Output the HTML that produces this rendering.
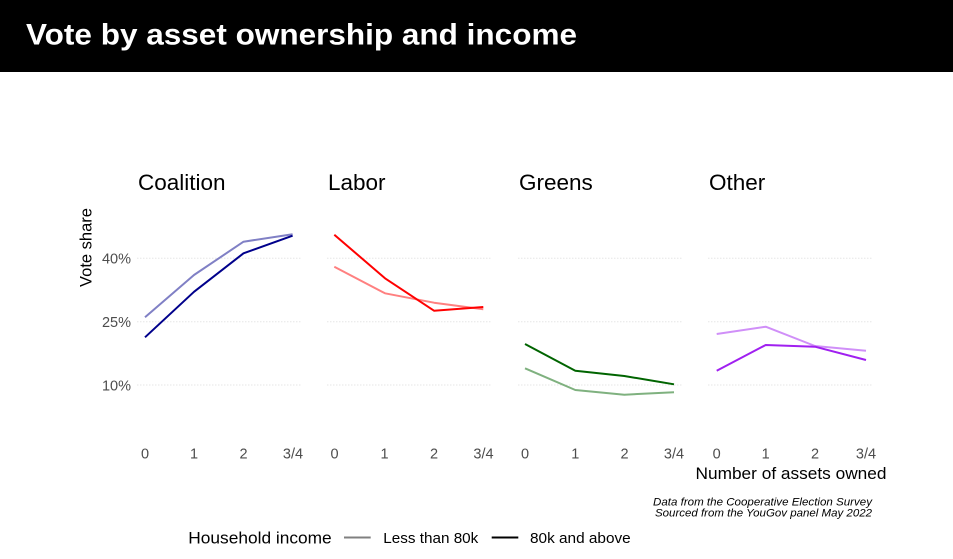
<!DOCTYPE html>
<html><head><meta charset="utf-8"><style>
html,body{margin:0;padding:0;background:#fff;}
svg{display:block;}
</style></head><body>
<svg width="953" height="559" viewBox="0 0 953 559" xmlns="http://www.w3.org/2000/svg" font-family="Liberation Sans, Arial, sans-serif">
<rect x="0" y="0" width="953" height="559" fill="#fff"/>
<rect x="0" y="0" width="953" height="72" fill="#000"/>
<text x="26" y="44.5" font-size="30" font-weight="bold" fill="#fff" textLength="551" lengthAdjust="spacingAndGlyphs">Vote by asset ownership and income</text>

<!-- gridlines -->
<g stroke="#e6e6e6" stroke-width="1" stroke-dasharray="1.5,1.5" fill="none">
<line x1="137" y1="258.3" x2="301" y2="258.3"/><line x1="137" y1="321.7" x2="301" y2="321.7"/><line x1="137" y1="385" x2="301" y2="385"/>
<line x1="327" y1="258.3" x2="491" y2="258.3"/><line x1="327" y1="321.7" x2="491" y2="321.7"/><line x1="327" y1="385" x2="491" y2="385"/>
<line x1="518" y1="258.3" x2="682" y2="258.3"/><line x1="518" y1="321.7" x2="682" y2="321.7"/><line x1="518" y1="385" x2="682" y2="385"/>
<line x1="708" y1="258.3" x2="873" y2="258.3"/><line x1="708" y1="321.7" x2="873" y2="321.7"/><line x1="708" y1="385" x2="873" y2="385"/>
</g>

<!-- facet titles -->
<g font-size="22.5" fill="#000">
<text x="138" y="190">Coalition</text>
<text x="328" y="190">Labor</text>
<text x="519" y="190">Greens</text>
<text x="709" y="190">Other</text>
</g>

<!-- y axis -->
<g font-size="14.5" fill="#4d4d4d" text-anchor="end">
<text x="131" y="263.5">40%</text>
<text x="131" y="327">25%</text>
<text x="131" y="390.3">10%</text>
</g>
<text transform="translate(91.5,247.5) rotate(-90)" font-size="16.5" fill="#000" text-anchor="middle">Vote share</text>

<!-- x ticks -->
<g font-size="14.5" fill="#4d4d4d" text-anchor="middle">
<text x="145" y="458.5">0</text><text x="194" y="458.5">1</text><text x="243.5" y="458.5">2</text><text x="293" y="458.5">3/4</text>
<text x="334.5" y="458.5">0</text><text x="384.5" y="458.5">1</text><text x="434" y="458.5">2</text><text x="483.5" y="458.5">3/4</text>
<text x="525" y="458.5">0</text><text x="575.3" y="458.5">1</text><text x="624.5" y="458.5">2</text><text x="674" y="458.5">3/4</text>
<text x="716.7" y="458.5">0</text><text x="765.7" y="458.5">1</text><text x="815" y="458.5">2</text><text x="866" y="458.5">3/4</text>
</g>
<text x="886.5" y="479" font-size="17" fill="#000" text-anchor="end" textLength="191" lengthAdjust="spacingAndGlyphs">Number of assets owned</text>

<!-- series -->
<g fill="none" stroke-width="2" stroke-linejoin="round">
<polyline stroke="#8080c5" points="145,317.3 194,275 243.5,241.7 292.6,234.2"/>
<polyline stroke="#00008b" points="145,337.3 194,291.8 243.5,253.3 292.6,235.7"/>
<polyline stroke="#ff8080" points="334.3,266.7 385,293.3 434,302.7 483.3,309.3"/>
<polyline stroke="#ff0000" points="334.3,234.7 385,278.3 434,310.7 483.3,307"/>
<polyline stroke="#7fb17f" points="525,368.3 575.3,390 624.3,394.7 674,392.3"/>
<polyline stroke="#006400" points="525,344 575.3,370.7 624.3,376 674,384.3"/>
<polyline stroke="#d08ff8" points="716.7,334 765.7,326.7 815,346 866,350.7"/>
<polyline stroke="#a020f0" points="716.7,370.7 765.7,345 815,346.7 866,360"/>
</g>

<!-- caption -->
<g font-size="11" font-style="italic" fill="#000" text-anchor="end">
<text x="872" y="505.5" textLength="219" lengthAdjust="spacingAndGlyphs">Data from the Cooperative Election Survey</text>
<text x="872" y="516.5" textLength="217" lengthAdjust="spacingAndGlyphs">Sourced from the YouGov panel May 2022</text>
</g>

<!-- legend -->
<text x="188.3" y="543.5" font-size="16.3" fill="#000" textLength="143.4" lengthAdjust="spacingAndGlyphs">Household income</text>
<line x1="344" y1="537.5" x2="370.7" y2="537.5" stroke="#808080" stroke-width="2"/>
<text x="383.3" y="543" font-size="14.5" fill="#000" textLength="95" lengthAdjust="spacingAndGlyphs">Less than 80k</text>
<line x1="491.7" y1="537.5" x2="518.3" y2="537.5" stroke="#000" stroke-width="2"/>
<text x="530" y="543" font-size="14.5" fill="#000" textLength="100.7" lengthAdjust="spacingAndGlyphs">80k and above</text>
</svg>
</body></html>
